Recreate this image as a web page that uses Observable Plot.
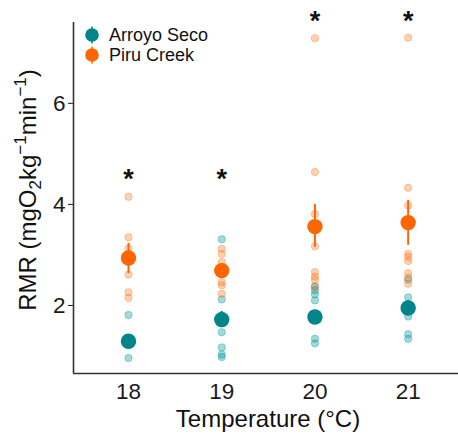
<!DOCTYPE html>
<html><head><meta charset="utf-8">
<script src="https://cdn.jsdelivr.net/npm/d3@7"></script>
<script src="https://cdn.jsdelivr.net/npm/@observablehq/plot@0.6"></script>
<style>
body{margin:0;background:#fff;}
#chart{position:relative;width:458px;height:435px;}
svg{overflow:visible;}
</style>
</head><body><div id="chart"></div>
<script>
// Temperatures (x categories) and y tick labels
const temps = [18, 19, 20, 21];
const yTicks = [2, 4, 6];
const sites = ["Arroyo Seco", "Piru Creek"];

// Individual RMR values per temperature
const arroyo18 = [1.81, 1.30, 1.25, 1.22, 0.96];
const arroyo19 = [3.31, 2.12, 1.80, 1.65, 1.47, 1.17, 1.03, 0.98];
const arroyo20 = [2.38, 2.30, 2.22, 2.10, 1.80, 1.75, 1.34, 1.25];
const arroyo21 = [2.51, 2.16, 2.00, 1.90, 1.78, 1.43, 1.34];
const piru18 = [4.15, 3.35, 3.13, 2.90, 2.61, 2.26, 2.15];
const piru19 = [3.12, 3.02, 2.86, 2.70, 2.46, 2.40, 2.23];
const piru20 = [7.29, 4.64, 3.81, 3.17, 2.66, 2.57, 2.51, 2.36];
const piru21 = [7.30, 4.33, 3.98, 3.02, 2.96, 2.88, 2.64, 2.55, 2.43];

// Means and error-bar limits
const arroyoMean = [1.29, 1.72, 1.77, 1.95];
const arroyoLo = [1.18, 1.56, 1.66, 1.80];
const arroyoHi = [1.40, 1.88, 1.88, 2.10];
const piruMean = [2.94, 2.69, 3.56, 3.64];
const piruLo = [2.63, 2.55, 3.15, 3.19];
const piruHi = [3.23, 2.83, 4.00, 4.08];

// Significance asterisk heights
const sigY = [4.63, 4.63, 7.77, 7.77];

const teal = "#00858A";
const orange = "#FF6600";

const rawArroyo = [arroyo18, arroyo19, arroyo20, arroyo21]
  .flatMap((vals, i) => vals.map(v => ({t: temps[i], v})));
const rawPiru = [piru18, piru19, piru20, piru21]
  .flatMap((vals, i) => vals.map(v => ({t: temps[i], v})));
const summ = (mean, lo, hi) => temps.map((t, i) => ({t, m: mean[i], lo: lo[i], hi: hi[i]}));
const sumArroyo = summ(arroyoMean, arroyoLo, arroyoHi);
const sumPiru = summ(piruMean, piruLo, piruHi);
const sig = temps.map((t, i) => ({t, y: sigY[i]}));

const xDomain = [17.41, 21.54];
const yDomain = [0.653, 7.6];

const plot = Plot.plot({
  width: 458, height: 435,
  marginLeft: 73, marginRight: 0, marginTop: 22, marginBottom: 62,
  style: {fontFamily: "'Liberation Sans', Arial, sans-serif", fontSize: "22px", background: "white", overflow: "visible"},
  x: {domain: xDomain},
  y: {domain: yDomain},
  marks: [
    Plot.axisX(temps, {tickSize: 0, tickPadding: 10, fontSize: 22.5, label: null, color: "#1a1a1a", tickFormat: d => String(d)}),
    Plot.axisY(yTicks, {tickSize: 5, tickPadding: 3, fontSize: 22.5, label: null, color: "#1a1a1a", tickFormat: d => String(d)}),
    Plot.ruleX([xDomain[0]], {stroke: "#333", strokeWidth: 1.6}),
    Plot.ruleY([yDomain[0]], {stroke: "#333", strokeWidth: 1.6}),
    Plot.dot(rawArroyo, {x: "t", y: "v", r: 3.7, fill: "#0a9aa0", fillOpacity: 0.38, stroke: "#0a9aa0", strokeOpacity: 0.35, strokeWidth: 1}),
    Plot.dot(rawPiru, {x: "t", y: "v", r: 3.7, fill: orange, fillOpacity: 0.3, stroke: orange, strokeOpacity: 0.3, strokeWidth: 1}),
    Plot.ruleX(sumArroyo, {x: "t", y1: "lo", y2: "hi", stroke: teal, strokeWidth: 2}),
    Plot.ruleX(sumPiru, {x: "t", y1: "lo", y2: "hi", stroke: orange, strokeWidth: 2}),
    Plot.dot(sumArroyo, {x: "t", y: "m", r: 7.7, fill: teal}),
    Plot.dot(sumPiru, {x: "t", y: "m", r: 7.7, fill: orange}),
    Plot.text(sig, {x: "t", y: "y", text: () => "*", fontSize: 27, fontWeight: "bold", fill: "#111", dy: 7, clip: false})
  ]
});

const svg = d3.select(plot);
const ns = "'Liberation Sans', Arial, sans-serif";

// X axis title
svg.append("text")
  .attr("x", 268).attr("y", 427)
  .attr("text-anchor", "middle")
  .attr("font-family", ns).attr("font-size", 24).attr("fill", "#111")
  .text("Temperature (\u00B0C)");

// Y axis title with sub/superscripts
const yt = svg.append("text")
  .attr("transform", "translate(36,190) rotate(-90)")
  .attr("text-anchor", "middle")
  .attr("font-family", ns).attr("font-size", 24).attr("fill", "#111");
yt.append("tspan").text("RMR (mgO");
yt.append("tspan").attr("font-size", 17).attr("dy", 5).text("2");
yt.append("tspan").attr("dy", -5).text("kg");
yt.append("tspan").attr("font-size", 17).attr("dy", -10).text("\u22121");
yt.append("tspan").attr("dy", 10).text("min");
yt.append("tspan").attr("font-size", 17).attr("dy", -10).text("\u22121");
yt.append("tspan").attr("dy", 10).text(")");

// Legend
const legColors = [teal, orange];
sites.forEach((s, i) => {
  const cy = 35 + i * 20;
  svg.append("line").attr("x1", 92).attr("x2", 92).attr("y1", cy - 8.5).attr("y2", cy + 8.5)
    .attr("stroke", legColors[i]).attr("stroke-width", 1.5);
  svg.append("circle").attr("cx", 92).attr("cy", cy).attr("r", 6.8).attr("fill", legColors[i]);
  svg.append("text").attr("x", 109).attr("y", cy).attr("dy", "0.36em")
    .attr("text-anchor", "start")
    .attr("font-family", ns).attr("font-size", 18).attr("fill", "#111").text(s);
});

document.getElementById("chart").appendChild(plot);
</script>
</body></html>
